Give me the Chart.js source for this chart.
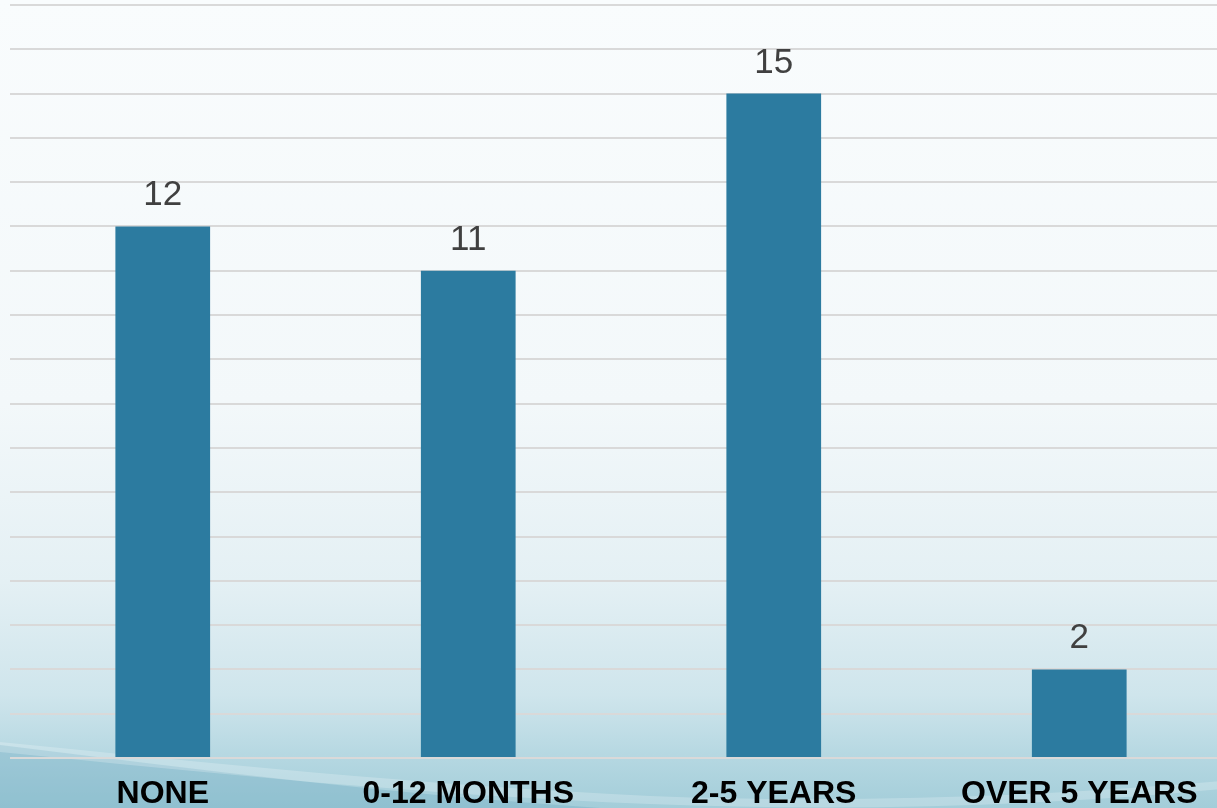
<!DOCTYPE html>
<html>
<head>
<meta charset="utf-8">
<script src="https://cdn.jsdelivr.net/npm/chart.js@4/dist/chart.umd.min.js"></script>
<style>
  html, body { margin: 0; padding: 0; overflow: hidden; background: #f8fcfd; }
  #wrap { width: 1232px; height: 808px; overflow: hidden; }
</style>
</head>
<body>
<div id="wrap"><canvas id="chart" width="1232" height="830"></canvas></div>
<script>
// data
const categories = ['NONE', '0-12 MONTHS', '2-5 YEARS', 'OVER 5 YEARS'];
const counts = [12, 11, 15, 2];
const axisMax = 17;

// slide-style background: pale top fading into blue with a wave at the bottom
const backdrop = {
    id: 'backdrop',
    beforeDraw(chart) {
        const ctx = chart.ctx;
        const w = chart.width, h = 808;
        ctx.save();
        const g = ctx.createLinearGradient(0, 0, 0, h);
        g.addColorStop(0, '#f9fcfd');
        g.addColorStop(0.5, '#f3f8fa');
        g.addColorStop(0.72, '#e4f0f4');
        g.addColorStop(0.86, '#cfe5ec');
        g.addColorStop(0.94, '#b4d7e1');
        g.addColorStop(1, '#a3cdd9');
        ctx.fillStyle = g;
        ctx.fillRect(0, 0, w, chart.height);

        // darker sweep bottom-left
        ctx.beginPath();
        ctx.moveTo(0, 745);
        ctx.bezierCurveTo(200, 770, 400, 795, 600, h);
        ctx.lineTo(600, chart.height);
        ctx.lineTo(0, chart.height);
        ctx.closePath();
        ctx.fillStyle = 'rgba(110,170,192,0.35)';
        ctx.fill();

        // light wave band
        ctx.beginPath();
        ctx.moveTo(0, 742);
        ctx.bezierCurveTo(200, 762, 420, 785, 650, 796);
        ctx.bezierCurveTo(850, 804, 1050, 796, w, 780);
        ctx.lineTo(w, 788);
        ctx.bezierCurveTo(1050, 806, 850, 812, 650, 804);
        ctx.bezierCurveTo(420, 795, 200, 772, 0, 752);
        ctx.closePath();
        ctx.fillStyle = 'rgba(255,255,255,0.22)';
        ctx.fill();
        ctx.restore();
    }
};

// value labels above each bar
const valueLabels = {
    id: 'valueLabels',
    afterDatasetsDraw(chart) {
        const ctx = chart.ctx;
        const meta = chart.getDatasetMeta(0);
        ctx.save();
        ctx.font = '35px "Liberation Sans", Arial, sans-serif';
        ctx.fillStyle = '#404040';
        ctx.textAlign = 'center';
        ctx.textBaseline = 'alphabetic';
        meta.data.forEach((bar, i) => {
            ctx.fillText(String(counts[i]), bar.x, bar.y - 21);
        });
        ctx.restore();
    }
};

new Chart(document.getElementById('chart'), {
    type: 'bar',
    data: {
        labels: categories,
        datasets: [{
            data: counts,
            backgroundColor: '#2c7ba0',
            borderWidth: 0,
            barPercentage: 0.31,
            categoryPercentage: 1
        }]
    },
    options: {
        responsive: false,
        animation: false,
        layout: { padding: { left: 10, top: 5, right: 0, bottom: 0 } },
        plugins: {
            legend: { display: false },
            tooltip: { enabled: false }
        },
        scales: {
            x: {
                grid: { display: false, drawTicks: false },
                border: { display: false },
                ticks: {
                    color: '#000000',
                    padding: 20,
                    font: { family: '"Liberation Sans", Arial, sans-serif', size: 32, weight: 'bold', lineHeight: 1.0 }
                }
            },
            y: {
                min: 0,
                max: axisMax,
                grid: { color: '#d9d9d9', lineWidth: 2, drawTicks: false },
                border: { display: false },
                ticks: { display: false, stepSize: 1 }
            }
        }
    },
    plugins: [backdrop, valueLabels]
});
</script>
</body>
</html>
